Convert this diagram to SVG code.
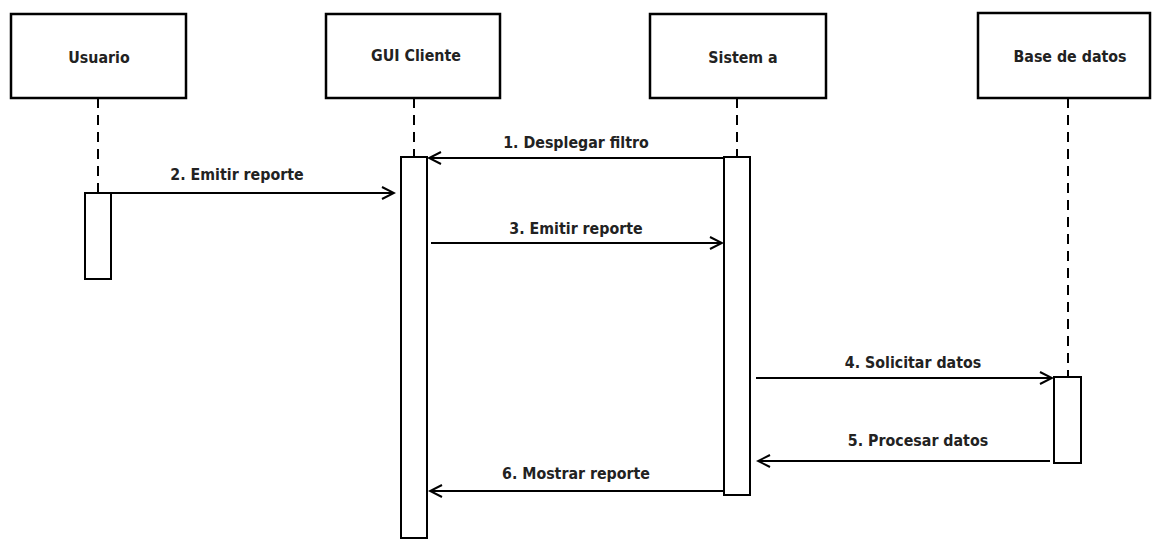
<svg xmlns="http://www.w3.org/2000/svg" width="1152" height="540" viewBox="0 0 1152 540">
  <style>
    .box { fill: #fff; stroke: #000; stroke-width: 2.5; }
    .life { stroke: #000; stroke-width: 2; stroke-dasharray: 10 7; fill: none; }
    .act { fill: #fff; stroke: #000; stroke-width: 2; }
    .msg { stroke: #000; stroke-width: 2; fill: none; marker-end: url(#open); }
    text { font-family: "DejaVu Sans Condensed", "DejaVu Sans", Verdana, sans-serif; font-weight: bold; font-size: 15.8px; fill: #222; text-anchor: middle; }
  </style>
  <defs>
    <!-- open "V" arrowhead for synchronous messages -->
    <marker id="open" markerWidth="15" markerHeight="15" refX="13" refY="7" orient="auto" markerUnits="userSpaceOnUse">
      <path d="M1,1 L13,7 L1,13" fill="none" stroke="#000" stroke-width="2"/>
    </marker>
  </defs>
  <rect width="1152" height="540" fill="#fff"/>

  <g id="usuario">
    <rect class="box" x="11" y="14" width="175" height="84"/>
    <text x="99" y="63">Usuario</text>
    <line class="life" x1="98" y1="98" x2="98" y2="193"/>
    <rect class="act" x="85" y="193" width="26" height="86"/>
  </g>

  <g id="gui-cliente">
    <rect class="box" x="326" y="14" width="174" height="84"/>
    <text x="416" y="61">GUI Cliente</text>
    <line class="life" x1="414" y1="98" x2="414" y2="157"/>
    <rect class="act" x="401" y="157" width="26" height="381"/>
  </g>

  <g id="sistema">
    <rect class="box" x="650" y="14" width="176" height="84"/>
    <text x="743" y="63">Sistem a</text>
    <line class="life" x1="737" y1="98" x2="737" y2="157"/>
    <rect class="act" x="724" y="157" width="26" height="338"/>
  </g>

  <g id="base-de-datos">
    <rect class="box" x="978" y="13" width="172" height="85"/>
    <text x="1070" y="62">Base de datos</text>
    <line class="life" x1="1068" y1="98" x2="1068" y2="377"/>
    <rect class="act" x="1054" y="377" width="27" height="86"/>
  </g>

  <g id="connectors">
    <line class="msg" x1="724" y1="158" x2="429" y2="158"/>
    <text x="576" y="148">1. Desplegar filtro</text>
    <line class="msg" x1="111" y1="193" x2="394" y2="193"/>
    <text x="237" y="180">2. Emitir reporte</text>
    <line class="msg" x1="431" y1="243" x2="722" y2="243"/>
    <text x="576" y="234">3. Emitir reporte</text>
    <line class="msg" x1="756" y1="378" x2="1052" y2="378"/>
    <text x="913" y="368">4. Solicitar datos</text>
    <line class="msg" x1="1050" y1="461" x2="758" y2="461"/>
    <text x="918" y="446">5. Procesar datos</text>
    <line class="msg" x1="724" y1="491" x2="430" y2="491"/>
    <text x="576" y="479">6. Mostrar reporte</text>
  </g>
</svg>
